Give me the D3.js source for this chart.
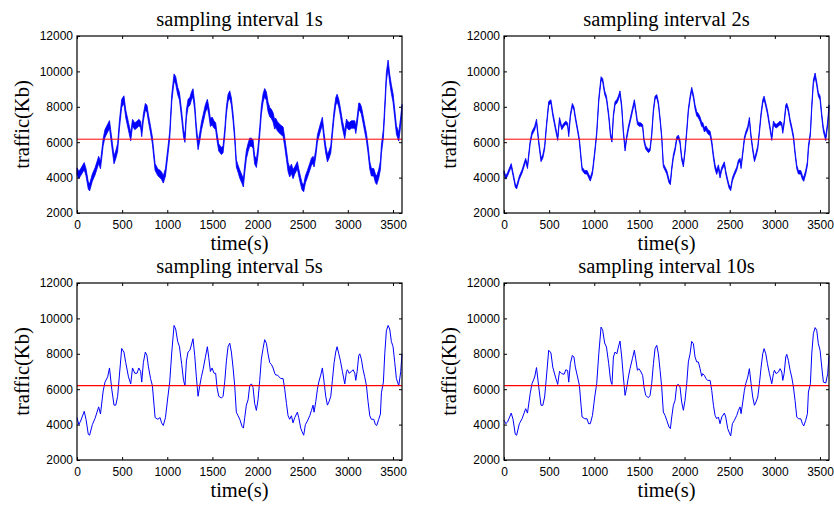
<!DOCTYPE html>
<html>
<head>
<meta charset="utf-8">
<script src="https://cdn.jsdelivr.net/npm/d3@7"></script>
<style>
  body { margin: 0; background: #fff; }
  .tick text { font-family: "Liberation Sans", Arial, sans-serif; font-size: 12px; fill: #000; }
  .lbl { font-family: "Liberation Serif", "Times New Roman", serif; font-size: 20.5px; fill: #000; }
</style>
</head>
<body>
<svg id="fig" width="834" height="506"></svg>
<script>
const tk = [
  0,20,40,80,100,125,140,170,200,240,
  260,290,310,340,360,385,410,430,450,470,
  495,520,540,570,595,615,640,665,685,705,
  717,735,757,775,790,815,835,855,865,895,
  920,937,956,980,1005,1027,1050,1075,1093,1115,
  1135,1160,1180,1196,1212,1230,1250,1267,1285,1304,
  1322,1341,1360,1378,1396,1422,1444,1459,1478,1496,
  1518,1536,1551,1570,1600,1618,1636,1655,1673,1692,
  1710,1729,1747,1765,1784,1803,1828,1843,1858,1876,
  1895,1913,1932,1950,1968,1987,2005,2024,2042,2061,
  2079,2098,2116,2135,2153,2172,2190,2201,2220,2238,
  2257,2283,2301,2320,2338,2356,2375,2393,2412,2441,
  2456,2478,2493,2511,2530,2552,2578,2597,2615,2626,
  2645,2663,2678,2700,2718,2737,2755,2774,2792,2811,
  2829,2848,2866,2881,2900,2918,2940,2966,2985,2995,
  3014,3040,3058,3077,3088,3103,3121,3132,3150,3169,
  3187,3206,3224,3243,3261,3287,3306,3320,3342,3361,
  3372,3394,3409,3427,3446,3464,3482,3501,3520,3538,
  3564,3586,3600
];

// 1s sampling: middle of the noisy band
const v1 = [
  4350,4150,4300,4650,4300,3550,3450,4000,4350,5000,
  4700,6000,6500,6800,7000,6000,5000,5300,5700,7000,
  8200,8400,7600,6900,6300,7100,6900,7000,7100,7000,
  6500,7400,8000,7900,7400,6700,6100,5100,4600,4300,
  4200,4100,3900,4300,5400,6400,8500,9650,9500,8900,
  8600,7500,6500,6200,7600,8200,8300,8600,8800,8000,
  6700,5800,6300,6900,7300,7900,8200,7800,7100,7200,
  7000,6900,6300,5700,5500,5600,6500,7800,8500,8700,
  8300,7400,6300,4800,4500,4200,3900,3700,4500,5300,
  5700,6000,6000,5900,5000,4800,5500,6600,7800,8500,
  8800,8600,8000,7700,7600,7400,7000,7100,6900,6800,
  6700,6600,6000,5300,4600,4300,4500,4200,4400,4700,
  4300,3800,3500,3400,3900,4200,4600,4900,5000,4800,
  5400,6200,6500,6900,7200,6300,5600,5100,5300,5600,
  6600,7600,8300,8500,8200,7700,7000,6400,7100,7000,
  6900,7000,7000,7000,6700,7200,8000,8000,7800,7300,
  6800,6300,5600,4700,4300,4300,3950,3850,4200,4700,
  5600,6500,7900,9700,10400,9600,9000,8500,7600,6700,
  6300,7200,7900
];
// half thickness of the 1s band, per 300 s stretch
const band1 = [200, 220, 190, 210, 220, 200, 230, 260, 200, 210, 210, 240];

// 2s sampling
const v2 = [
  4300,4000,4200,4700,4200,3550,3450,4000,4350,5000,
  4600,6000,6500,6800,7200,6000,5000,5200,5700,6900,
  8200,8300,7600,6800,6200,7300,6800,7000,7100,7000,
  6400,7500,8100,7900,7400,6700,6100,5000,4500,4300,
  4300,4100,3900,4300,5400,6500,8400,9600,9500,8800,
  8500,7500,6400,6100,7500,8200,8300,8500,8800,8000,
  6600,5600,6300,6800,7200,7800,8300,7800,7100,7000,
  7000,6900,6100,5700,5500,5600,6400,7800,8500,8600,
  8200,7300,6300,4700,4500,4300,3800,3700,4500,5200,
  5600,6200,6300,6000,5100,4700,5500,6600,7800,8500,
  9000,8600,8000,7600,7500,7300,7000,7000,6700,6800,
  6600,6500,6000,5200,4600,4300,4600,4100,4500,4800,
  4300,3800,3500,3350,3900,4200,4500,4900,5000,4600,
  5400,6200,6500,6800,7300,6300,5600,5000,5300,5700,
  6600,7600,8300,8500,8100,7700,7000,6200,7100,7000,
  6900,7000,7100,7000,6600,7100,8000,8100,7800,7200,
  6800,6300,5400,4600,4300,4300,4000,3900,4300,4800,
  5700,6500,8000,9400,9800,9300,8700,8500,7500,6700,
  6200,7100,8000
];
const band2 = [90, 100, 90, 100, 100, 90, 100, 120, 90, 100, 100, 110];

// 5s sampling
const v5 = [
  4400,4000,4200,4750,4300,3450,3400,4000,4350,5000,
  4600,5900,6400,6700,7200,6000,5100,5100,5600,6800,
  8300,8100,7500,6700,6300,7200,6900,6900,7200,7000,
  6400,7500,8100,7900,7300,6600,6200,5000,4400,4300,
  4400,4100,3950,4400,5500,6400,8100,9600,9400,8700,
  8400,7400,6500,6200,7600,8100,8200,8500,8850,7900,
  6700,5600,6200,6700,7100,7800,8400,7800,7000,7200,
  6900,6900,6100,5600,5500,5600,6400,7600,8400,8600,
  8100,7200,6200,4700,4500,4300,3900,3800,4400,5100,
  5400,6200,6300,6100,5200,4800,5400,6500,7700,8300,
  8800,8600,8000,7500,7400,7200,6900,6800,6800,6700,
  6600,6600,6000,5200,4500,4300,4500,4100,4400,4700,
  4400,3800,3600,3400,4000,4200,4500,4800,5100,4700,
  5300,6000,6400,6800,7200,6400,5600,5100,5300,5600,
  6500,7500,8100,8400,8000,7600,7000,6300,7000,7100,
  6900,7000,7100,6900,6500,7000,7900,8000,7700,7100,
  6700,6200,5300,4500,4300,4300,4000,3950,4300,4600,
  5800,6400,8000,9300,9600,9400,8700,8400,7500,6600,
  6200,7000,8000
];

// 10s sampling
const v10 = [
  4250,4050,4150,4650,4300,3450,3400,4050,4330,4900,
  4650,5750,6310,6690,7220,6120,5090,5090,5560,6690,
  8200,8050,7250,6690,6270,7010,6880,6840,7100,7050,
  6400,7440,7910,7820,7250,6690,6220,5000,4430,4330,
  4330,4050,4050,4520,5560,6310,8000,9510,9330,8610,
  8380,7440,6500,6270,7820,8100,8000,8380,8720,7820,
  6690,5650,6120,6690,7160,7720,8200,7720,7070,7160,
  6970,6780,6120,5650,5520,5650,6310,7440,8290,8480,
  8000,7070,6120,4710,4520,4240,3860,3770,4430,5090,
  5370,6220,6270,6120,5280,4810,5370,6310,7540,8000,
  8700,8570,7820,7540,7540,7160,6730,6880,6780,6590,
  6500,6500,5940,5090,4520,4330,4430,4050,4430,4650,
  4430,3770,3580,3360,4050,4240,4520,4810,5000,4620,
  5280,5940,6310,6690,7160,6310,5560,5090,5280,5560,
  6310,7250,8000,8290,8000,7440,6880,6310,6880,7070,
  6880,6970,7160,6970,6500,6880,7820,7970,7630,7070,
  6690,6120,5370,4430,4330,4330,4050,3920,4240,4620,
  5840,6310,8000,9140,9480,9330,8570,8200,7250,6400,
  6350,6880,7900
];

const means = [6170, 6170, 6200, 6200];
const titles = ['sampling interval 1s', 'sampling interval 2s', 'sampling interval 5s', 'sampling interval 10s'];
const xTicks = [0, 500, 1000, 1500, 2000, 2500, 3000, 3500];
const yTicks = [2000, 4000, 6000, 8000, 10000, 12000];

const w = 325, h = 177;
const panels = [
  { left: 77,  top: 36,  values: v1,  band: band1 },
  { left: 504, top: 36,  values: v2,  band: band2 },
  { left: 77,  top: 283, values: v5 },
  { left: 504, top: 283, values: v10 }
];

const svg = d3.select('#fig');

const x = d3.scaleLinear().domain([0, 3600]).range([0, w]);
const y = d3.scaleLinear().domain([2000, 12000]).range([h, 0]);
const fmt = d3.format('d');

panels.forEach((p, k) => {
  const g = svg.append('g').attr('transform', `translate(${p.left},${p.top})`);

  if (p.band) {
    const half = i => p.band[Math.min(p.band.length - 1, Math.floor(tk[i] / 300))];
    const area = d3.area()
      .x((d, i) => x(tk[i]))
      .y0((d, i) => y(d - half(i)))
      .y1((d, i) => y(d + half(i)));
    g.append('path')
      .datum(p.values)
      .attr('d', area)
      .attr('fill', '#0000ff')
      .attr('stroke', '#0000ff')
      .attr('stroke-width', 0.8);
  } else {
    const line = d3.line().x((d, i) => x(tk[i])).y(d => y(d));
    g.append('path')
      .datum(p.values)
      .attr('d', line)
      .attr('fill', 'none')
      .attr('stroke', '#0000ff')
      .attr('stroke-width', 1);
  }

  // mean line
  g.append('line')
    .attr('x1', x(0)).attr('x2', x(3600))
    .attr('y1', y(means[k])).attr('y2', y(means[k]))
    .attr('stroke', '#ff0000')
    .attr('stroke-width', k < 2 ? 1 : 1.4);

  // axes, ticks pointing inwards on all sides
  const strip = a => a.select('.domain').remove();
  g.append('g').attr('transform', `translate(0,${h})`)
    .call(d3.axisBottom(x).tickValues(xTicks).tickFormat(fmt).tickSize(-3).tickSizeOuter(0).tickPadding(7))
    .call(strip);
  g.append('g')
    .call(d3.axisTop(x).tickValues(xTicks).tickSize(-3).tickSizeOuter(0).tickFormat(''))
    .call(strip);
  g.append('g')
    .call(d3.axisLeft(y).tickValues(yTicks).tickFormat(fmt).tickSize(-3).tickSizeOuter(0).tickPadding(4))
    .call(strip);
  g.append('g').attr('transform', `translate(${w},0)`)
    .call(d3.axisRight(y).tickValues(yTicks).tickSize(-3).tickSizeOuter(0).tickFormat(''))
    .call(strip);

  g.append('rect')
    .attr('width', w).attr('height', h)
    .attr('fill', 'none')
    .attr('stroke', '#000')
    .attr('stroke-width', 1.2);

  g.append('text').attr('class', 'lbl')
    .attr('x', w / 2).attr('y', -10)
    .attr('text-anchor', 'middle')
    .text(titles[k]);

  g.append('text').attr('class', 'lbl')
    .attr('x', w / 2).attr('y', h + 37)
    .attr('text-anchor', 'middle')
    .text('time(s)');

  g.append('text').attr('class', 'lbl')
    .attr('transform', `translate(-48,${h / 2}) rotate(-90)`)
    .attr('text-anchor', 'middle')
    .text('traffic(Kb)');
});
</script>
</body>
</html>
